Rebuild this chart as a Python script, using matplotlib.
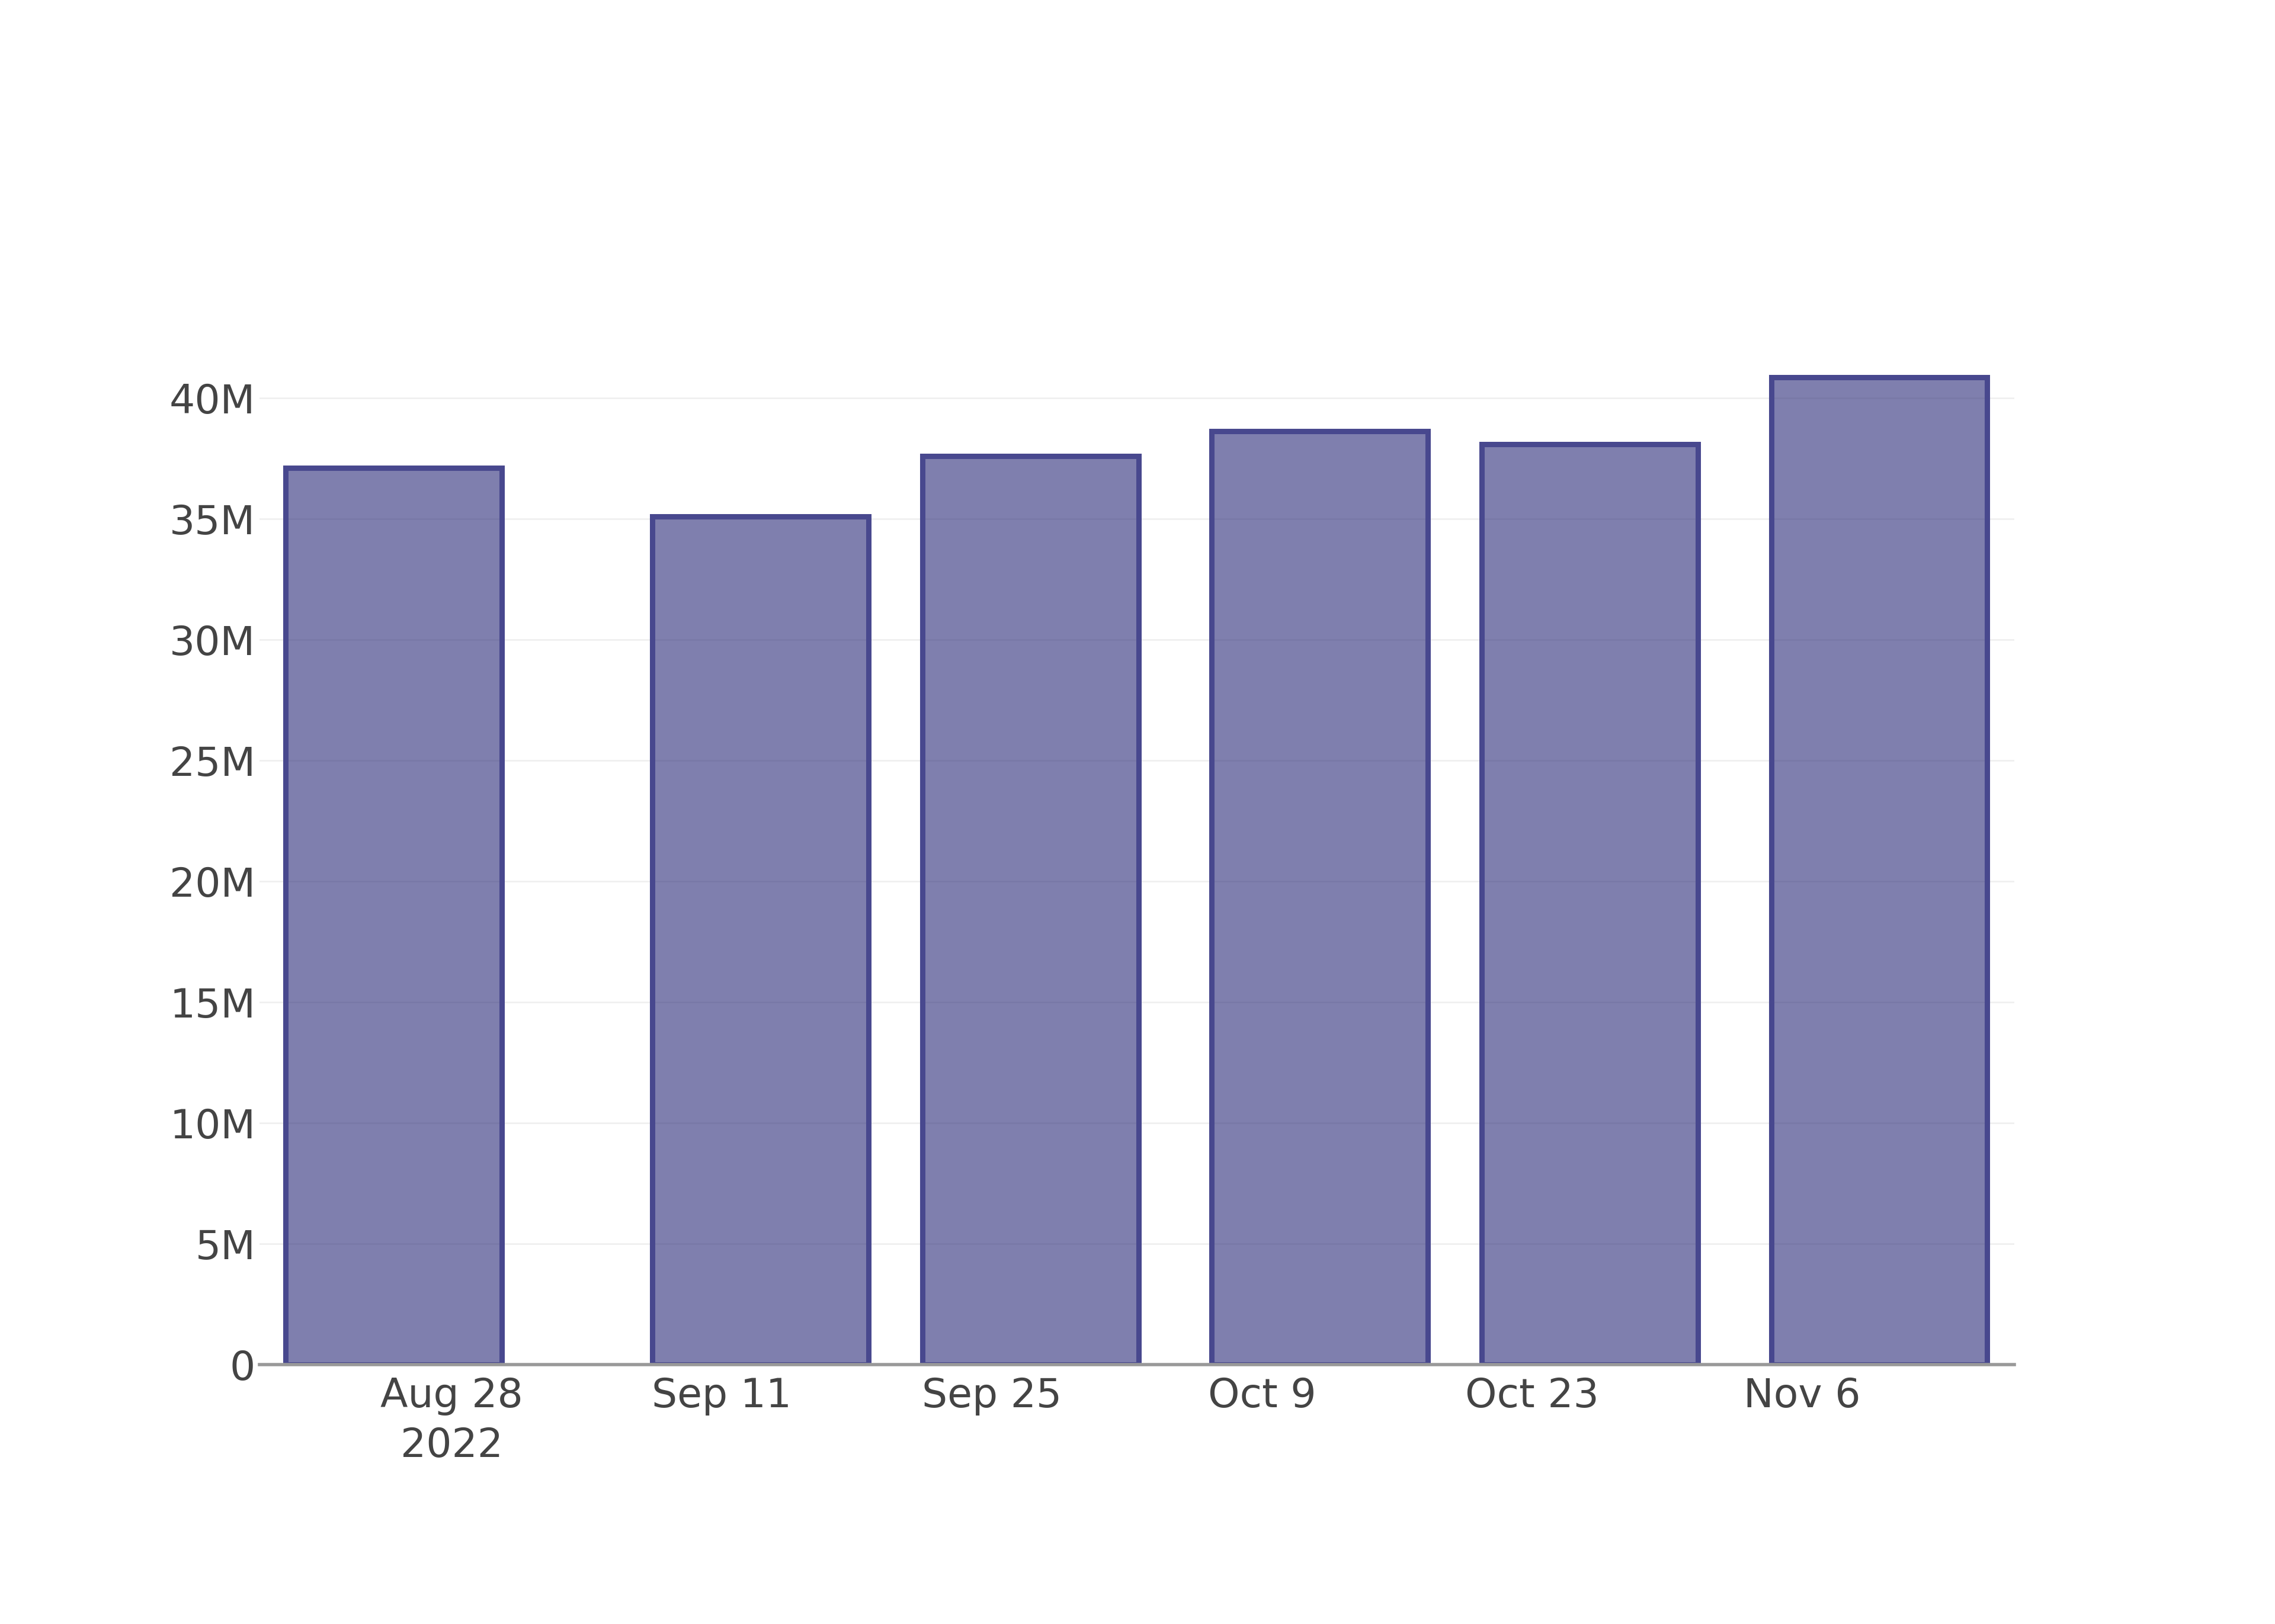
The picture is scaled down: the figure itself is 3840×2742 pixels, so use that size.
import matplotlib
matplotlib.use("Agg")
import matplotlib.pyplot as plt
from matplotlib.ticker import FuncFormatter
import pandas as pd

# data
dates = pd.to_datetime(["2022-08-25", "2022-09-13", "2022-09-27",
                        "2022-10-12", "2022-10-26", "2022-11-10"])
values = [37.11e6, 35.10e6, 37.60e6, 38.63e6, 38.09e6, 40.86e6]
tick_dates = pd.date_range("2022-08-28", periods=6, freq="14D")
tick_labels = ["Aug 28\n2022", "Sep 11", "Sep 25", "Oct 9", "Oct 23", "Nov 6"]

plt.rcParams['font.family'] = ['DejaVu Sans']
text_col = "#444444"

fig = plt.figure(figsize=(38.4, 27.42), dpi=100)
ax = fig.add_axes([0.1141, 0.1597, 0.8854 - 0.1141, 0.7996 - 0.1597])

ax.bar(dates, values, width=11.2,
       facecolor=(0.165, 0.165, 0.47, 0.6),
       edgecolor="#48488e", linewidth=6.5, zorder=2)

ax.set_xlim(pd.Timestamp("2022-08-18 01:00"), pd.Timestamp("2022-11-17"))
ax.set_ylim(0, 43.0e6)

ax.set_yticks([i * 5e6 for i in range(9)])
ax.yaxis.set_major_formatter(FuncFormatter(lambda v, p: "0" if v == 0 else f"{v/1e6:.0f}M"))
ax.set_xticks(tick_dates)
ax.set_xticklabels(tick_labels)

ax.grid(axis="y", color="#eeeeee", linewidth=1.8, zorder=0)
ax.set_axisbelow(True)
for s in ["top", "right", "left"]:
    ax.spines[s].set_visible(False)
ax.spines["bottom"].set_color("#999999")
ax.spines["bottom"].set_linewidth(4)
ax.spines["bottom"].set_zorder(3)

ax.tick_params(axis="both", length=0, labelsize=49, colors=text_col)
ax.tick_params(axis="y", pad=5)
ax.tick_params(axis="x", pad=14)
for lbl in ax.get_xticklabels():
    lbl.set_linespacing(1.35)

fig.savefig("out.png", dpi=100, facecolor="white")
